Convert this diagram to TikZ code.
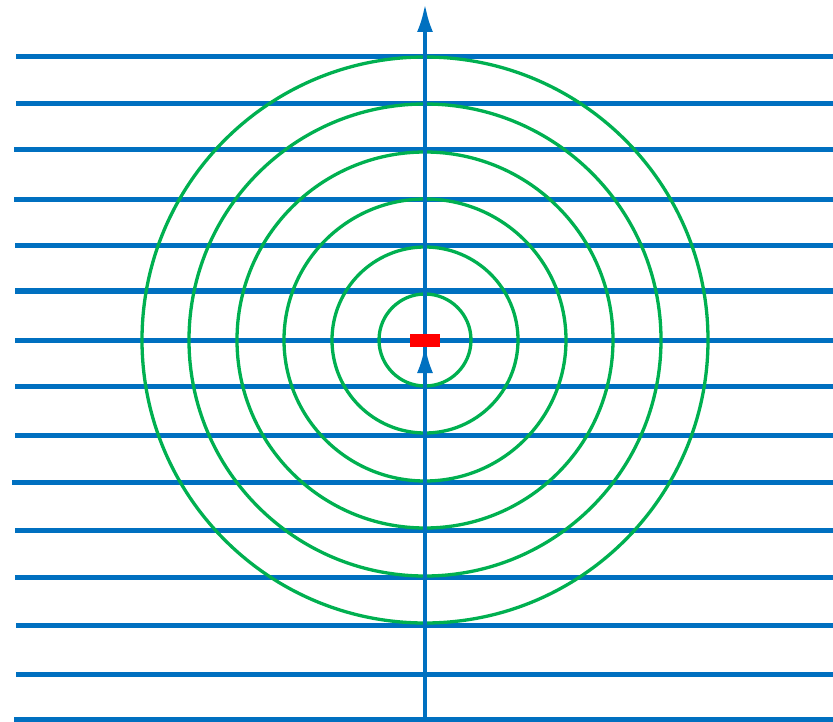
\documentclass[tikz,border=0pt]{standalone}
\usepackage{tikz}
\usetikzlibrary{arrows.meta}

\definecolor{fieldblue}{HTML}{0070C0}
\definecolor{ringgreen}{HTML}{00B050}

\begin{document}
\begin{tikzpicture}[
        x=1pt, y=-1pt,
        field/.style = {draw=fieldblue, line width=5pt},
        ring/.style  = {draw=ringgreen, line width=3.3pt},
        axis/.style  = {draw=fieldblue, line width=3.8pt, -{Latex[length=28pt,width=16pt]}},
        source/.style = {fill=red, draw=none}
    ]
        \useasboundingbox (0,0) rectangle (833,722);
        % horizontal field lines
        \foreach \y/\l in {57/16, 104/16, 150/14, 200/14, 246/15, 291/15, 340/15, 386/15,
                           435/15, 482/12, 530/15, 577/15, 625/16, 674/16, 719/14}
            \draw[field] (\l,\y) -- (833,\y);
        % rings round the source
        \coordinate (src) at (425,340);
        \foreach \r in {46, 93, 141, 188, 236, 283}
            \draw[ring] (src) circle (\r);
        % axis through the source
        \coordinate (bottom) at (425,722);
        \coordinate (top) at (425,4);
        \draw[axis] (bottom) -- (top);
        \coordinate (tail) at (425,372);
        \coordinate (tip) at (425,345);
        \draw[axis] (tail) -- (tip);
        \path[source] (410,334) rectangle (440,347);
    \end{tikzpicture}
\end{document}
